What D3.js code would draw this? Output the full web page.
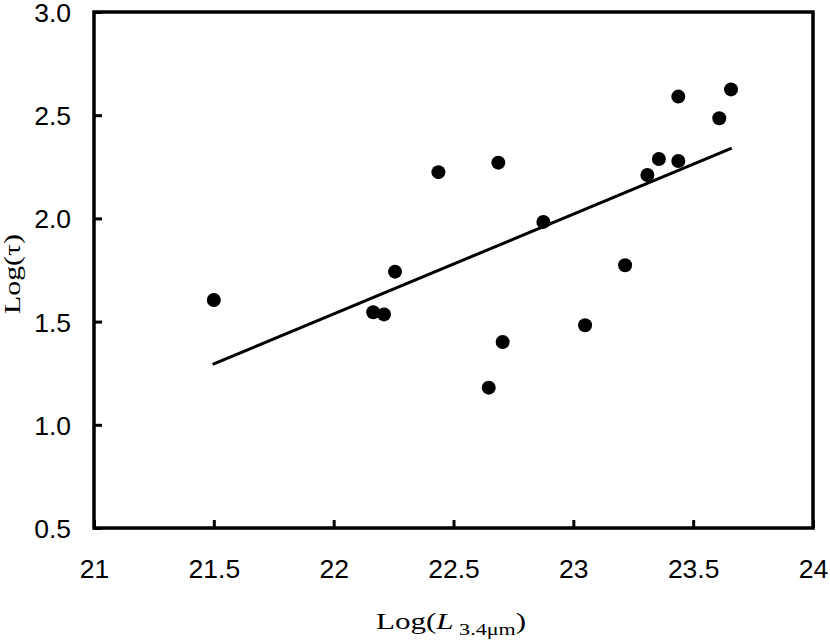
<!DOCTYPE html>
<html>
<head>
<meta charset="utf-8">
<script src="https://cdn.jsdelivr.net/npm/d3@7"></script>
<style>
  body { margin: 0; background: #fff; }
  .tick text { font-family: "Liberation Sans", Arial, sans-serif; font-size: 26.5px; fill: #000; }
  .title { font-family: "Liberation Serif", "Times New Roman", serif; fill: #000; }
</style>
</head>
<body>
<script>
//values
var logL = [21.50, 22.165, 22.21, 22.256, 22.437, 22.647, 22.687, 22.705, 22.875,
            23.049, 23.216, 23.309, 23.357, 23.438, 23.438, 23.609, 23.658];
var logTau = [1.605, 1.545, 1.535, 1.742, 2.224, 1.180, 2.270, 1.401, 1.983,
              1.482, 1.773, 2.210, 2.288, 2.278, 2.590, 2.485, 2.625];
var fitX = [21.495, 23.661];
var fitY = [1.293, 2.340];
var xTicks = [21, 21.5, 22, 22.5, 23, 23.5, 24];
var yTicks = [0.5, 1.0, 1.5, 2.0, 2.5, 3.0];

window.onload = drawChart();

function drawChart(){

    var width = 830,
        height = 643;

    var svg = d3.select("body")
        .append("svg")
        .attr("width", width)
        .attr("height", height);

    var x = d3.scaleLinear().domain([21, 24]).range([94, 813]);
    var y = d3.scaleLinear().domain([0.5, 3.0]).range([528, 12]);

    //x axis, ticks pointing inward
    var xAxis = svg.append("g")
        .attr("transform", "translate(0," + y(0.5) + ")")
        .call(d3.axisBottom(x).tickValues(xTicks).tickSize(-8).tickPadding(40)
            .tickFormat(function(d){ return String(d); }));
    xAxis.select(".domain").remove();
    xAxis.selectAll(".tick line").attr("stroke", "#000").attr("stroke-width", 3);
    xAxis.selectAll(".tick text").attr("dy", 0).attr("y", 50);

    //y axis
    var yAxis = svg.append("g")
        .attr("transform", "translate(" + x(21) + ",0)")
        .call(d3.axisLeft(y).tickValues(yTicks).tickSize(-8).tickPadding(23)
            .tickFormat(d3.format(".1f")));
    yAxis.select(".domain").remove();
    yAxis.selectAll(".tick line").attr("stroke", "#000").attr("stroke-width", 3);
    yAxis.selectAll(".tick text").attr("dy", "0.36em");

    //frame
    svg.append("rect")
        .attr("x", x(21))
        .attr("y", y(3.0))
        .attr("width", x(24) - x(21))
        .attr("height", y(0.5) - y(3.0))
        .attr("fill", "none")
        .attr("stroke", "#000")
        .attr("stroke-width", 3.5);

    //fit line
    svg.append("line")
        .attr("x1", x(fitX[0])).attr("y1", y(fitY[0]))
        .attr("x2", x(fitX[1])).attr("y2", y(fitY[1]))
        .attr("stroke", "#000")
        .attr("stroke-width", 3);

    //points
    svg.selectAll(".dot")
        .data(logL)
        .enter()
        .append("circle")
        .attr("class", "dot")
        .attr("cx", function(d){ return x(d); })
        .attr("cy", function(d, i){ return y(logTau[i]); })
        .attr("r", 7)
        .attr("fill", "#000");

    //x title
    var xt = svg.append("text")
        .attr("class", "title")
        .attr("text-anchor", "middle")
        .attr("font-size", 22.5)
        .attr("transform", "translate(451,629) scale(1.38,1)");
    xt.append("tspan").text("Log(");
    xt.append("tspan").attr("font-style", "italic").text("L");
    xt.append("tspan").attr("font-size", 16).attr("dy", 6).text(" 3.4\u03bcm");
    xt.append("tspan").attr("dy", -6).text(")");

    //y title
    svg.append("text")
        .attr("class", "title")
        .attr("text-anchor", "middle")
        .attr("font-size", 23)
        .attr("transform", "translate(20,274) rotate(-90) scale(1.3,1)")
        .text("Log(\u03c4)");
};
</script>
</body>
</html>
